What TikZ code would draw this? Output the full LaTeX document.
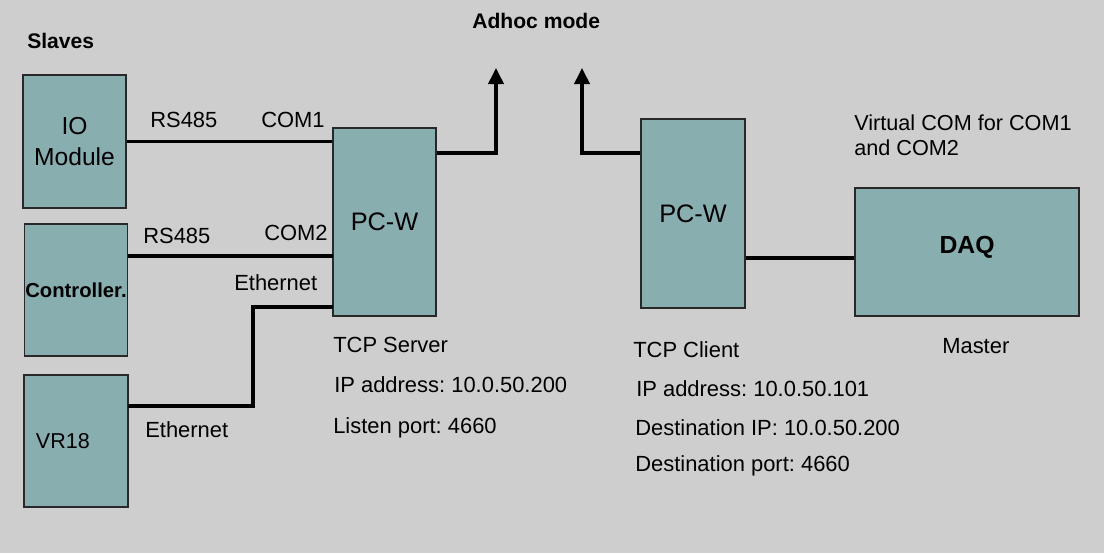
\documentclass[tikz,border=0pt]{standalone}
\usepackage{fontspec}
\setmainfont{Liberation Sans}
\usetikzlibrary{arrows.meta}
\definecolor{bggray}{RGB}{206,206,206}
\definecolor{boxteal}{RGB}{136,174,176}
\definecolor{boxline}{RGB}{40,40,40}
\frenchspacing
\begin{document}
\begin{tikzpicture}
	[x=0.025cm,y=-0.025cm,
	box/.style={rectangle,draw=boxline,line width=0.8pt,fill=boxteal,inner sep=0pt},
	lbl/.style={anchor=base west,inner sep=0pt,font=\fontsize{15.6}{18}\selectfont},
	wire/.style={line width=2.2pt},
	>={Triangle[length=0.4cm,width=0.38cm]}]
	\fill[bggray] (0,0) rectangle (1104,553);
	\useasboundingbox (0,0) rectangle (1104,553);
	\node[box,name=io,minimum width=2.575cm,minimum height=3.325cm,align=center,font=\fontsize{17.5}{22}\selectfont] at (74.5,141.5) {IO\\Module};
	\node[box,name=ctrl,minimum width=2.575cm,minimum height=3.3cm,font=\bfseries\fontsize{14.4}{17}\selectfont] at (76,290) {Controller.};
	\node[box,name=vr,minimum width=2.6cm,minimum height=3.3cm,inner xsep=0.3cm,text width=2.0cm,align=left,font=\fontsize{15.3}{18}\selectfont] at (76,441) {VR18};
	\node[box,name=pcwA,minimum width=2.575cm,minimum height=4.7cm,font=\fontsize{18}{22}\selectfont] at (384.5,222) {PC-W};
	\node[box,name=pcwB,minimum width=2.6cm,minimum height=4.725cm,font=\fontsize{18}{22}\selectfont] at (693,213.5) {PC-W};
	\node[box,name=daq,minimum width=5.6cm,minimum height=3.2cm,text height=0.45cm,text depth=0.39cm,font=\bfseries\fontsize{17.6}{21}\selectfont] at (967,252) {DAQ};
	\node[lbl,name=slaves,font=\bfseries\fontsize{15}{18}\selectfont] at (27,48) {Slaves};
	\node[lbl,name=adhoc,font=\bfseries\fontsize{15}{18}\selectfont] at (472,28) {Adhoc mode};
	\node[lbl,name=rsA] at (150,127) {RS485};
	\node[lbl,name=comA] at (261,127) {COM1};
	\node[lbl,name=rsB] at (143,243) {RS485};
	\node[lbl,name=comB] at (264,240) {COM2};
	\node[lbl,name=ethA] at (234,290) {Ethernet};
	\node[lbl,name=ethB] at (145,437) {Ethernet};
	\node[lbl,name=srv] at (333,352) {TCP Server};
	\node[lbl,name=srvip] at (334,392) {IP address: 10.0.50.200};
	\node[lbl,name=srvport] at (333,433) {Listen port: 4660};
	\node[lbl,name=cli] at (633,357) {TCP Client};
	\node[lbl,name=cliip] at (636,396) {IP address: 10.0.50.101};
	\node[lbl,name=clidst] at (635,435) {Destination IP: 10.0.50.200};
	\node[lbl,name=cliport] at (635,471) {Destination port: 4660};
	\node[lbl,name=vcom,anchor=north west,align=left,font=\fontsize{15.4}{17.7}\selectfont] at (854,114.5) {Virtual COM for COM1\\and COM2};
	\node[lbl,name=master] at (942,353) {Master};
	% ports and bends
	\coordinate (com2) at (333,256);
	\coordinate (eth) at (333,307);
	\coordinate (bend) at (253,406);
	\coordinate (vrport) at (128,406);
	\coordinate (outA) at (436,153);
	\coordinate (upA) at (496,68);
	\coordinate (upB) at (582,68);
	\coordinate (link) at (800,258);
	\draw[wire](io.east)--(io.east-|pcwA.west);
	\draw[wire](com2-|ctrl.east)--(com2);
	\draw[wire](eth)-|(bend)--(vrport);
	\draw[wire,->](outA-|pcwA.east)-|(upA);
	\draw[wire,->](outA-|pcwB.west)-|(upB);
	\draw[wire](link-|pcwB.east)--(link-|daq.west);
\end{tikzpicture}
\end{document}
